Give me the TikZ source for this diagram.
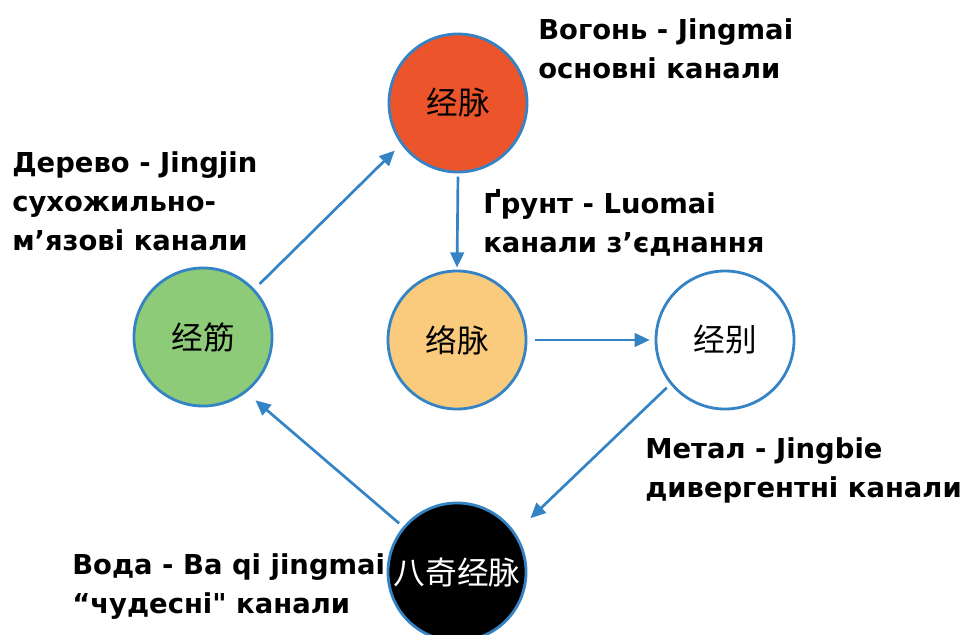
\documentclass[tikz,border=0pt]{standalone}
\usepackage{fontspec}
\setmainfont{DejaVu Sans}[Ligatures=TeXOff]
\newfontfamily\cjk{Noto Sans CJK SC}
\usetikzlibrary{arrows.meta}
\definecolor{ringblue}{RGB}{52,131,196}
\definecolor{firered}{RGB}{236,85,43}
\definecolor{earthyellow}{RGB}{250,203,124}
\definecolor{woodgreen}{RGB}{141,203,120}
\begin{document}
\begin{tikzpicture}[x=0.025cm,y=-0.025cm,
channel/.style={shape=circle,draw=ringblue,line width=2pt,minimum size=3.45cm,inner sep=0pt,
font=\cjk\fontsize{22.5}{24}\selectfont},
flow/.style={draw=ringblue,line width=1.9pt,-{Triangle[length=0.38cm,width=0.34cm]}},
caption/.style={anchor=base west,align=left,inner sep=0pt,
font=\bfseries\fontsize{19.5}{27.7}\selectfont}]
\useasboundingbox (0,0) rectangle (962,634);
\node[channel,fill=firered] (jingmai) at (458,103) {经脉};
\node[channel,fill=earthyellow] (luomai) at (457,340) {络脉};
\node[channel,fill=white] (jingbie) at (725,340) {经别};
\node[channel,fill=woodgreen] (jingjin) at (203,337) {经筋};
\node[channel,fill=black,text=white] (baqi) at (457,572) {八奇经脉};

\node[caption] (fire) at (538,78) {Вогонь - Jingmai\\основні канали};
\node[caption] (wood) at (12,250) {Дерево - Jingjin\\сухожильно-\\м’язові канали};
\node[caption] (earth) at (483,252) {Ґрунт - Luomai\\канали з’єднання};
\node[caption] (metal) at (645,497) {Метал - Jingbie\\дивергентні канали};
\node[caption] (water) at (72,613) {Вода - Ba qi jingmai\\“чудесні" канали};

\draw[flow,shorten <=0.18cm,shorten >=0.22cm] (jingjin.43) -- (jingmai.216);
\draw[flow,shorten <=0.08cm,shorten >=0.05cm] (jingmai.south) -- (luomai.north);
\draw[flow,shorten <=0.2cm,shorten >=0.12cm] (luomai.east) -- (jingbie.west);
\draw[flow,shorten <=0.12cm,shorten >=0.52cm] (jingbie.219) -- (baqi.34);
\draw[flow,shorten <=0.13cm,shorten >=0.3cm] (baqi.140) -- (jingjin.-52);
\end{tikzpicture}
\end{document}
